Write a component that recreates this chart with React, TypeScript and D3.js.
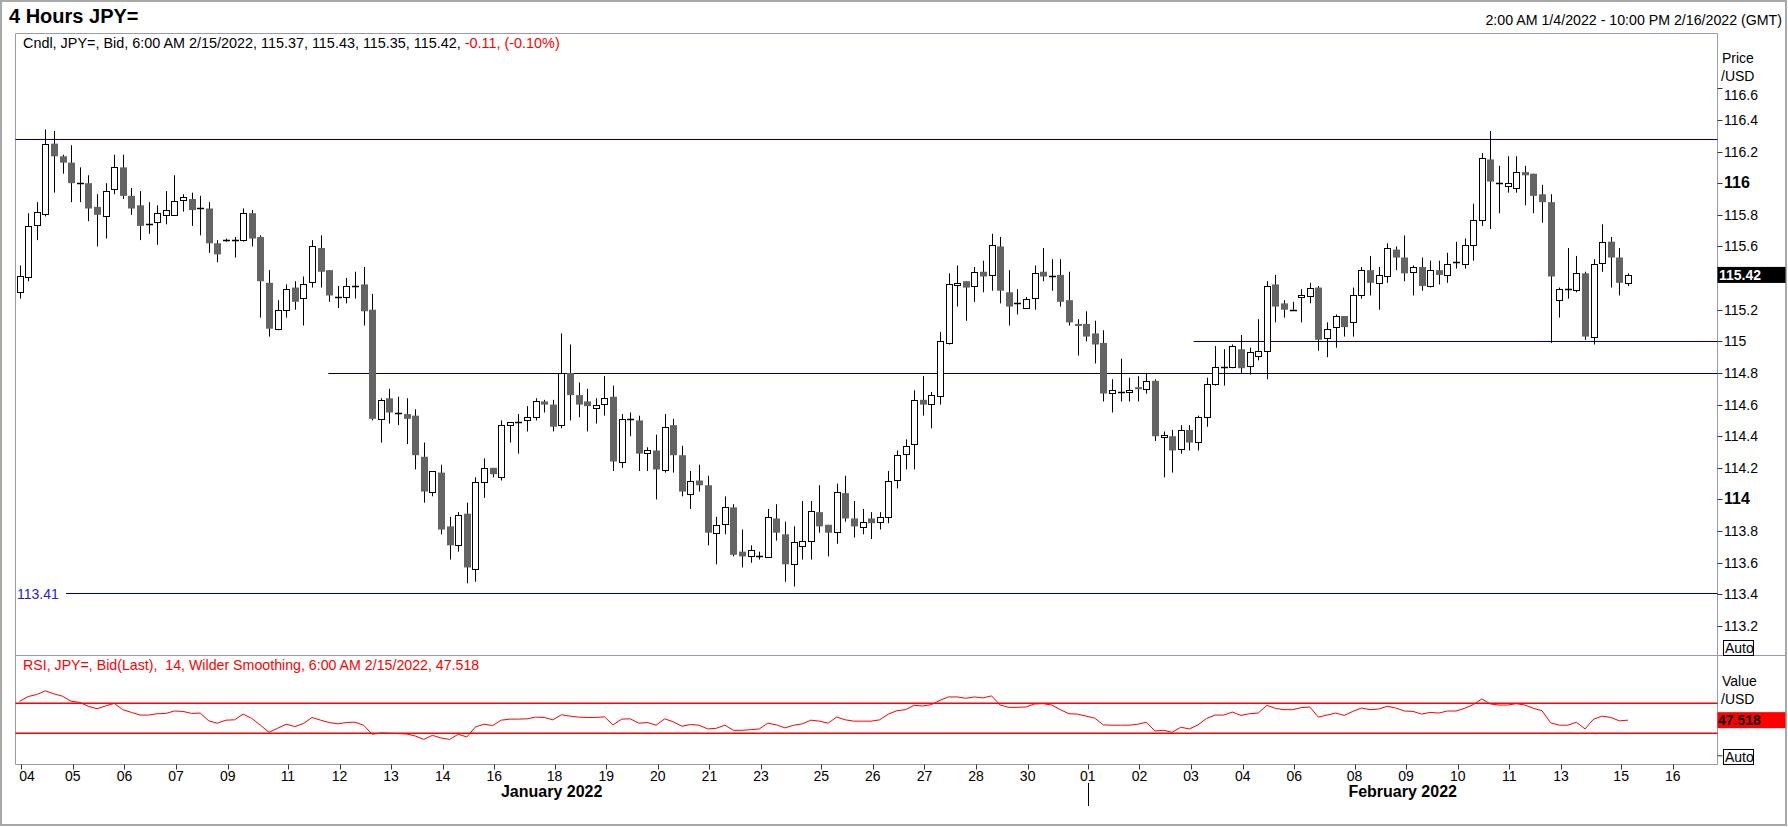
import React, { useEffect, useRef } from 'react'
import * as d3 from 'd3'

// session days on the time axis and the number of 4-hour slots in each
const dayLabels = [
  '04', '05', '06', '07', '09', '10', '11', '12', '13', '14', '16', '17', '18', '19', '20', '21',
  '23', '24', '25', '26', '27', '28', '30', '31',
  '01', '02', '03', '04', '06', '07', '08', '09', '10', '11', '13', '14', '15', '16',
]
const candlesPerDay = [
  6, 6, 6, 6, 1, 6, 6, 6, 6, 6, 1, 6, 6, 6, 6, 6, 1, 6, 6, 6, 6, 6, 1, 6,
  6, 6, 6, 6, 1, 6, 6, 6, 6, 6, 1, 6, 6, 6,
]
const monthNames = ['January 2022', 'February 2022']
const daysPerMonth = [24, 14]

// JPY= 4h candles, 2:00 AM 1/4/2022 .. 6:00 AM 2/15/2022
const open = [
  115.31, 115.41, 115.74, 115.81, 116.25, 116.17, 116.13, 116.0, 116.0, 115.85,
  115.79, 115.96, 116.1, 115.92, 115.86, 115.74, 115.75, 115.8, 115.8, 115.89,
  115.9, 115.84, 115.84, 115.62, 115.64, 115.64, 115.64, 115.81, 115.66, 115.37,
  115.08, 115.2, 115.34, 115.27, 115.37, 115.59, 115.45, 115.28, 115.28, 115.35,
  115.36, 115.2, 114.51, 114.64, 114.55, 114.54, 114.53, 114.27, 114.05, 114.17,
  113.83, 113.71, 113.91, 113.56, 114.11, 114.2, 114.14, 114.47, 114.49, 114.5,
  114.52, 114.62, 114.6, 114.47, 114.8, 114.66, 114.62, 114.58, 114.6, 114.65,
  114.24, 114.51, 114.5, 114.29, 114.31, 114.19, 114.47, 114.28, 114.04, 114.12,
  114.09, 113.79, 113.84, 113.95, 113.67, 113.64, 113.64, 113.64, 113.88, 113.78,
  113.59, 113.71, 113.74, 113.92, 113.84, 113.8, 114.04, 113.88, 113.83, 113.88,
  113.86, 113.89, 114.12, 114.29, 114.35, 114.63, 114.6, 114.65, 114.99, 115.36,
  115.38, 115.35, 115.44, 115.42, 115.6, 115.31, 115.24, 115.21, 115.27, 115.44,
  115.41, 115.42, 115.26, 115.11, 115.11, 115.05, 114.99, 114.67, 114.68, 114.68,
  114.71, 114.7, 114.75, 114.4, 114.4, 114.32, 114.44, 114.36, 114.52, 114.73,
  114.84, 114.84, 114.95, 114.84, 114.91, 114.94, 115.36, 115.24, 115.2, 115.28,
  115.29, 115.34, 115.02, 115.09, 115.16, 115.12, 115.29, 115.45, 115.37, 115.41,
  115.58, 115.53, 115.44, 115.47, 115.35, 115.45, 115.42, 115.5, 115.49, 115.61,
  115.77, 116.15, 116.0, 115.98, 115.97, 116.07, 116.06, 115.93, 115.88, 115.26,
  115.33, 115.32, 115.43, 115.03, 115.5, 115.63, 115.53, 115.37,
]
const high = [
  115.48, 115.81, 115.88, 116.34, 116.33, 116.18, 116.24, 116.1, 116.05, 115.93,
  116.0, 116.18, 116.18, 115.97, 115.95, 115.88, 115.86, 115.95, 116.05, 115.93,
  115.94, 115.92, 115.88, 115.64, 115.65, 115.66, 115.84, 115.83, 115.67, 115.45,
  115.26, 115.36, 115.38, 115.41, 115.64, 115.67, 115.45, 115.35, 115.4, 115.44,
  115.47, 115.3, 114.64, 114.7, 114.65, 114.64, 114.57, 114.36, 114.18, 114.22,
  113.89, 113.92, 113.98, 114.14, 114.26, 114.2, 114.5, 114.49, 114.54, 114.59,
  114.64, 114.63, 114.63, 115.05, 114.98, 114.74, 114.7, 114.64, 114.78, 114.72,
  114.54, 114.55, 114.53, 114.33, 114.41, 114.54, 114.51, 114.34, 114.18, 114.22,
  114.15, 113.89, 114.02, 113.97, 113.81, 113.71, 113.67, 113.94, 113.97, 113.86,
  113.83, 113.99, 113.99, 114.09, 113.84, 114.1, 114.15, 113.99, 113.94, 113.92,
  113.92, 114.18, 114.31, 114.38, 114.69, 114.78, 114.68, 115.06, 115.43, 115.48,
  115.38, 115.47, 115.51, 115.68, 115.66, 115.45, 115.33, 115.28, 115.48, 115.59,
  115.52, 115.52, 115.44, 115.14, 115.19, 115.13, 115.07, 114.76, 114.89, 114.77,
  114.78, 114.8, 114.76, 114.43, 114.44, 114.47, 114.47, 114.53, 114.77, 114.97,
  114.95, 114.98, 115.04, 114.96, 115.14, 115.38, 115.42, 115.26, 115.25, 115.33,
  115.37, 115.35, 115.12, 115.17, 115.16, 115.34, 115.47, 115.54, 115.47, 115.62,
  115.6, 115.67, 115.48, 115.53, 115.51, 115.51, 115.56, 115.63, 115.65, 115.87,
  116.19, 116.33, 116.11, 116.17, 116.17, 116.11, 116.06, 115.99, 115.93, 115.34,
  115.59, 115.54, 115.44, 115.52, 115.74, 115.66, 115.59, 115.43,
]
const low = [
  115.27, 115.38, 115.64, 115.79, 115.94, 116.06, 115.88, 115.88, 115.76, 115.6,
  115.65, 115.93, 115.9, 115.8, 115.64, 115.68, 115.61, 115.74, 115.8, 115.82,
  115.73, 115.67, 115.56, 115.5, 115.63, 115.53, 115.63, 115.6, 115.15, 115.03,
  115.07, 115.15, 115.2, 115.1, 115.34, 115.34, 115.25, 115.21, 115.24, 115.27,
  115.1, 114.5, 114.36, 114.48, 114.47, 114.35, 114.19, 113.98, 114.02, 113.78,
  113.62, 113.67, 113.47, 113.48, 114.01, 114.14, 114.12, 114.36, 114.29, 114.43,
  114.5, 114.55, 114.43, 114.45, 114.5, 114.52, 114.43, 114.48, 114.53, 114.18,
  114.2, 114.4, 114.18, 114.18, 114.0, 114.17, 114.17, 114.02, 113.94, 114.05,
  113.71, 113.59, 113.78, 113.64, 113.57, 113.6, 113.62, 113.64, 113.74, 113.48,
  113.45, 113.62, 113.62, 113.79, 113.64, 113.72, 113.86, 113.76, 113.78, 113.75,
  113.81, 113.85, 114.07, 114.19, 114.19, 114.53, 114.45, 114.6, 114.98, 115.22,
  115.13, 115.25, 115.31, 115.32, 115.24, 115.1, 115.17, 115.21, 115.2, 115.38,
  115.32, 115.22, 115.1, 114.91, 115.0, 114.86, 114.62, 114.55, 114.62, 114.62,
  114.62, 114.67, 114.37, 114.14, 114.17, 114.29, 114.31, 114.31, 114.46, 114.72,
  114.72, 114.83, 114.8, 114.79, 114.88, 114.76, 115.12, 115.15, 115.2, 115.12,
  115.24, 114.94, 114.9, 114.96, 115.03, 115.03, 115.27, 115.29, 115.2, 115.37,
  115.45, 115.38, 115.29, 115.32, 115.34, 115.36, 115.37, 115.46, 115.46, 115.51,
  115.73, 115.71, 115.81, 115.94, 115.94, 115.86, 115.81, 115.75, 114.99, 115.15,
  115.27, 115.31, 115.01, 114.98, 115.44, 115.34, 115.29, 115.35,
]
const close = [
  115.41, 115.73, 115.82, 116.25, 116.17, 116.13, 116.0, 116.0, 115.84, 115.8,
  115.95, 116.1, 115.92, 115.84, 115.73, 115.74, 115.81, 115.83, 115.89, 115.91,
  115.83, 115.84, 115.62, 115.55, 115.64, 115.64, 115.81, 115.65, 115.38, 115.08,
  115.2, 115.33, 115.25, 115.36, 115.6, 115.44, 115.29, 115.28, 115.35, 115.35,
  115.19, 114.51, 114.63, 114.55, 114.55, 114.51, 114.28, 114.05, 114.18, 113.81,
  113.71, 113.9, 113.57, 114.11, 114.2, 114.16, 114.47, 114.49, 114.49, 114.52,
  114.62, 114.6, 114.46, 114.8, 114.66, 114.6, 114.59, 114.6, 114.64, 114.24,
  114.51, 114.51, 114.29, 114.31, 114.19, 114.46, 114.28, 114.05, 114.12, 114.09,
  113.79, 113.84, 113.95, 113.65, 113.64, 113.68, 113.64, 113.89, 113.79, 113.59,
  113.73, 113.74, 113.93, 113.83, 113.79, 114.05, 113.88, 113.83, 113.86, 113.85,
  113.89, 114.12, 114.28, 114.34, 114.63, 114.6, 114.66, 115.0, 115.36, 115.37,
  115.34, 115.44, 115.41, 115.61, 115.32, 115.22, 115.24, 115.27, 115.43, 115.41,
  115.41, 115.25, 115.12, 115.1, 115.03, 114.98, 114.67, 114.69, 114.68, 114.69,
  114.7, 114.75, 114.4, 114.41, 114.31, 114.44, 114.36, 114.52, 114.73, 114.84,
  114.84, 114.97, 114.83, 114.93, 114.94, 115.35, 115.22, 115.2, 115.2, 115.29,
  115.34, 115.01, 115.08, 115.16, 115.09, 115.29, 115.45, 115.37, 115.42, 115.59,
  115.53, 115.43, 115.47, 115.35, 115.45, 115.42, 115.49, 115.5, 115.61, 115.77,
  116.16, 116.01, 116.0, 116.0, 116.07, 116.05, 115.92, 115.88, 115.41, 115.33,
  115.33, 115.43, 115.03, 115.49, 115.63, 115.53, 115.37, 115.42,
]
// RSI 14, Wilder smoothing, one value per candle
const rsi = [
  72.7, 79.0, 81.7, 86.6, 82.6, 79.4, 72.7, 71.3, 66.0, 62.8,
  66.4, 70.0, 61.5, 57.9, 54.3, 54.3, 56.1, 56.5, 59.7, 59.2,
  56.5, 57.0, 46.6, 43.5, 47.5, 48.0, 55.6, 49.8, 40.8, 31.3,
  36.7, 42.1, 39.0, 43.0, 51.1, 47.5, 44.4, 42.6, 44.4, 44.8,
  40.8, 28.7, 30.4, 30.0, 29.6, 29.1, 26.4, 21.9, 27.3, 23.7,
  21.9, 28.7, 25.1, 38.5, 42.1, 40.3, 47.5, 48.9, 48.9, 49.3,
  51.6, 51.1, 48.0, 54.7, 52.9, 51.6, 51.1, 51.1, 52.0, 41.2,
  48.9, 49.3, 43.5, 44.4, 40.8, 49.3, 45.3, 39.4, 41.7, 40.8,
  35.8, 36.7, 40.8, 34.0, 34.0, 34.9, 35.8, 43.5, 41.2, 37.2,
  40.8, 42.6, 47.5, 46.2, 43.5, 51.6, 48.0, 46.2, 46.2, 46.2,
  48.0, 55.6, 60.1, 61.5, 67.3, 66.4, 68.2, 74.0, 78.5, 78.5,
  76.7, 78.5, 77.2, 79.9, 67.7, 64.6, 64.6, 65.1, 69.1, 69.5,
  67.7, 61.5, 56.1, 55.6, 52.9, 50.2, 41.2, 40.8, 40.8, 40.8,
  42.1, 44.8, 33.1, 34.0, 31.3, 38.1, 35.8, 41.2, 49.8, 54.3,
  54.3, 58.3, 53.8, 56.1, 57.0, 67.3, 63.3, 61.5, 61.5, 64.2,
  65.1, 51.6, 54.3, 57.0, 53.8, 59.2, 63.7, 61.5, 62.4, 66.0,
  63.7, 59.7, 59.2, 55.6, 57.9, 57.0, 59.7, 59.7, 63.3, 68.2,
  75.8, 69.1, 67.7, 67.7, 69.5, 67.7, 63.3, 60.1, 43.9, 40.8,
  40.8, 44.8, 35.8, 48.9, 52.9, 51.1, 46.6, 47.518,
]
const priceTicks = d3.range(0, 18).map((k) => +(113.2 + k * 0.2).toFixed(1))
const rsiBands = [70, 30]

// drawn levels: price and the candle slot where each starts (null = whole width)
const levelPrices = [116.28, 114.8, 115.0, 113.41]
const levelStarts: (number | null)[] = [null, 35.9, 136.5, null]
const levelColors = ['#000080', '#00004a', '#000080', '#000080']

const lastPrice = 115.42
const lastRsi = 47.518

const W = 1788
const H = 827
const FONT = 'Liberation Sans, Arial, sans-serif'

const App: React.FC = () => {
  const svgRef = useRef<SVGSVGElement | null>(null)

  useEffect(() => {
    if (!svgRef.current) return
    const svg = d3.select(svgRef.current)
    svg.selectAll('*').remove()

    const left = 15.5
    const right = 1717.5
    const top = 33.5
    const priceBottom = 655.5
    const rsiBottom = 764.5

    const dayStart: number[] = []
    let acc = 0
    candlesPerDay.forEach((n) => {
      dayStart.push(acc)
      acc += n
    })
    const nSlots = acc

    const x = d3.scaleLinear().domain([-0.47, nSlots - 0.6]).range([left, right])
    const y = d3.scaleLinear().domain([113.2, 116.6]).range([626, 88.3])
    const yR = d3.scaleLinear().domain([30, 70]).range([733.3, 703.3])

    // outer border
    svg.append('rect').attr('x', 1).attr('y', 1).attr('width', W - 3).attr('height', H - 3)
      .attr('fill', 'none').attr('stroke', '#a8a8a8').attr('stroke-width', 2)

    // header
    svg.append('text').attr('x', 9).attr('y', 23).attr('font-family', FONT)
      .attr('font-size', 20).attr('font-weight', 'bold').text('4 Hours JPY=')
    svg.append('text').attr('x', 1782).attr('y', 25).attr('text-anchor', 'end')
      .attr('font-family', FONT).attr('font-size', 14.2)
      .text('2:00 AM 1/4/2022 - 10:00 PM 2/16/2022 (GMT)')

    // frame
    const frame = '#9a9aa8'
    svg.append('line').attr('x1', left).attr('x2', right).attr('y1', top).attr('y2', top).attr('stroke', frame)
    svg.append('line').attr('x1', left).attr('x2', left).attr('y1', top).attr('y2', rsiBottom).attr('stroke', frame)
    svg.append('line').attr('x1', right).attr('x2', right).attr('y1', top).attr('y2', rsiBottom).attr('stroke', frame)
    svg.append('line').attr('x1', left).attr('x2', W - 2).attr('y1', priceBottom).attr('y2', priceBottom).attr('stroke', frame)
    svg.append('line').attr('x1', left).attr('x2', right).attr('y1', rsiBottom).attr('y2', rsiBottom).attr('stroke', frame)

    // legend
    const leg = svg.append('text').attr('x', 23).attr('y', 48).attr('font-family', FONT).attr('font-size', 14.4)
    leg.append('tspan').text('Cndl, JPY=, Bid, 6:00 AM 2/15/2022, 115.37, 115.43, 115.35, 115.42, ')
    leg.append('tspan').attr('fill', '#ff0000').text('-0.11, (-0.10%)')

    // horizontal levels
    levelPrices.forEach((p, k) => {
      const yy = Math.round(y(p)) + 0.5
      const start = levelStarts[k]
      let x1 = start === null ? left : x(start)
      if (p === 113.41) {
        svg.append('text').attr('x', 17).attr('y', yy + 5).attr('font-family', FONT)
          .attr('font-size', 14).attr('fill', '#2424c8').text('113.41')
        x1 = 66
      }
      svg.append('line').attr('x1', x1).attr('x2', right).attr('y1', yy).attr('y2', yy)
        .attr('stroke', levelColors[k]).attr('stroke-width', 1.1)
    })

    // candles
    const candles = open.map((o, i) => ({ i, o, h: high[i], l: low[i], c: close[i] }))
    const cx = (i: number) => Math.round(x(i))
    const g = svg.append('g')
    g.selectAll('line.wick').data(candles).join('line')
      .attr('class', 'wick')
      .attr('x1', (d) => cx(d.i) + 0.5).attr('x2', (d) => cx(d.i) + 0.5)
      .attr('y1', (d) => y(d.h)).attr('y2', (d) => y(d.l))
      .attr('stroke', '#000').attr('stroke-width', 1)
    g.selectAll('rect.down').data(candles.filter((d) => d.c < d.o)).join('rect')
      .attr('class', 'down')
      .attr('x', (d) => cx(d.i) - 3).attr('width', 7)
      .attr('y', (d) => y(d.o)).attr('height', (d) => Math.max(2, y(d.c) - y(d.o)))
      .attr('fill', '#646464')
    g.selectAll('rect.up').data(candles.filter((d) => d.c > d.o)).join('rect')
      .attr('class', 'up')
      .attr('x', (d) => cx(d.i) - 2.5).attr('width', 6)
      .attr('y', (d) => Math.round(y(d.c)) + 0.5)
      .attr('height', (d) => Math.max(2, Math.round(y(d.o) - y(d.c))))
      .attr('fill', '#fff').attr('stroke', '#000').attr('stroke-width', 1)
    g.selectAll('line.doji').data(candles.filter((d) => d.c === d.o)).join('line')
      .attr('class', 'doji')
      .attr('x1', (d) => cx(d.i) - 3).attr('x2', (d) => cx(d.i) + 4)
      .attr('y1', (d) => Math.round(y(d.c)) + 0.5).attr('y2', (d) => Math.round(y(d.c)) + 0.5)
      .attr('stroke', '#000').attr('stroke-width', 1.5)

    // price axis
    const axisG = svg.append('g').attr('font-family', FONT).attr('font-size', 14)
    axisG.selectAll('line').data(priceTicks).join('line')
      .attr('x1', right).attr('x2', right + 5)
      .attr('y1', (d) => Math.round(y(d)) + 0.5).attr('y2', (d) => Math.round(y(d)) + 0.5)
      .attr('stroke', '#333')
    axisG.selectAll('text').data(priceTicks.filter((d) => Math.abs(d - lastPrice) > 0.1)).join('text')
      .attr('x', 1724)
      .attr('y', (d) => y(d) + 5 + (d === 116.6 ? 7 : 0))
      .attr('font-weight', (d) => (Math.abs(d % 2) < 0.01 ? 'bold' : 'normal'))
      .attr('font-size', (d) => (Math.abs(d % 2) < 0.01 ? 16 : 14))
      .text((d) => d3.format('.1~f')(d))
    svg.append('text').attr('x', 1722).attr('y', 63).attr('font-family', FONT).attr('font-size', 14).text('Price')
    svg.append('text').attr('x', 1721).attr('y', 81).attr('font-family', FONT).attr('font-size', 14).text('/USD')

    // last price box
    svg.append('rect').attr('x', right).attr('y', y(lastPrice) - 8).attr('width', 68).attr('height', 16).attr('fill', '#000')
    svg.append('text').attr('x', 1719).attr('y', y(lastPrice) + 5).attr('font-family', FONT)
      .attr('font-size', 14).attr('font-weight', 'bold').attr('fill', '#fff').text(d3.format('.2f')(lastPrice))

    const autoBox = (yTop: number) => {
      svg.append('rect').attr('x', 1723.5).attr('y', yTop + 0.5).attr('width', 30).attr('height', 15)
        .attr('fill', '#fff').attr('stroke', '#000')
      svg.append('text').attr('x', 1725).attr('y', yTop + 13).attr('font-family', FONT).attr('font-size', 14).text('Auto')
    }
    autoBox(640)

    // RSI pane
    svg.append('text').attr('x', 23).attr('y', 670).attr('font-family', FONT).attr('font-size', 14.2)
      .attr('fill', '#ff0000').attr('xml:space', 'preserve')
      .text('RSI, JPY=, Bid(Last),  14, Wilder Smoothing, 6:00 AM 2/15/2022, 47.518')
    rsiBands.forEach((b) => {
      svg.append('line').attr('x1', left).attr('x2', right).attr('y1', yR(b)).attr('y2', yR(b))
        .attr('stroke', '#ff0000').attr('stroke-width', 1.5)
    })
    const rsiLine = d3.line<number>().x((_, i) => x(i)).y((d) => yR(d))
    svg.append('path').attr('d', rsiLine(rsi)).attr('fill', 'none').attr('stroke', '#ff0000').attr('stroke-width', 1)

    svg.append('text').attr('x', 1722).attr('y', 686).attr('font-family', FONT).attr('font-size', 14).text('Value')
    svg.append('text').attr('x', 1721).attr('y', 704).attr('font-family', FONT).attr('font-size', 14).text('/USD')
    svg.append('rect').attr('x', right).attr('y', yR(lastRsi) - 8).attr('width', 68).attr('height', 16).attr('fill', '#ff0000')
    svg.append('text').attr('x', 1718).attr('y', yR(lastRsi) + 5).attr('font-family', FONT)
      .attr('font-size', 14).attr('font-weight', 'bold').text(d3.format('.3f')(lastRsi))
    svg.append('line').attr('x1', right).attr('x2', right + 5).attr('y1', yR(0)).attr('y2', yR(0)).attr('stroke', '#333')
    autoBox(749)

    // time axis
    const tickX = dayStart.map((s) => x(s + 0.2))
    let lastShown = -Infinity
    dayLabels.forEach((lab, k) => {
      const tx = tickX[k]
      if (tx > right || tx - lastShown < 30) return
      lastShown = tx
      const px = Math.round(tx) + 0.5
      svg.append('line').attr('x1', px).attr('x2', px).attr('y1', rsiBottom).attr('y2', rsiBottom + 5).attr('stroke', '#333')
      svg.append('text').attr('x', Math.max(tx, 27)).attr('y', 781).attr('text-anchor', 'middle')
        .attr('font-family', FONT).attr('font-size', 14).text(lab)
    })
    let dayIdx = 0
    monthNames.forEach((name, m) => {
      const x0 = m === 0 ? left : tickX[dayIdx]
      const nextIdx = dayIdx + daysPerMonth[m]
      const x1 = nextIdx < tickX.length ? tickX[nextIdx] : right
      if (m > 0) {
        const px = Math.round(x0) + 0.5
        svg.append('line').attr('x1', px).attr('x2', px).attr('y1', 783).attr('y2', 806).attr('stroke', '#000')
      }
      svg.append('text').attr('x', (x0 + x1) / 2).attr('y', 797).attr('text-anchor', 'middle')
        .attr('font-family', FONT).attr('font-size', 16).attr('font-weight', 'bold').text(name)
      dayIdx = nextIdx
    })
  }, [])

  return (
    <svg
      ref={svgRef}
      width={W}
      height={H}
      style={{ position: 'absolute', left: 0, top: 0, background: '#fff' }}
    ></svg>
  )
}

export default App
